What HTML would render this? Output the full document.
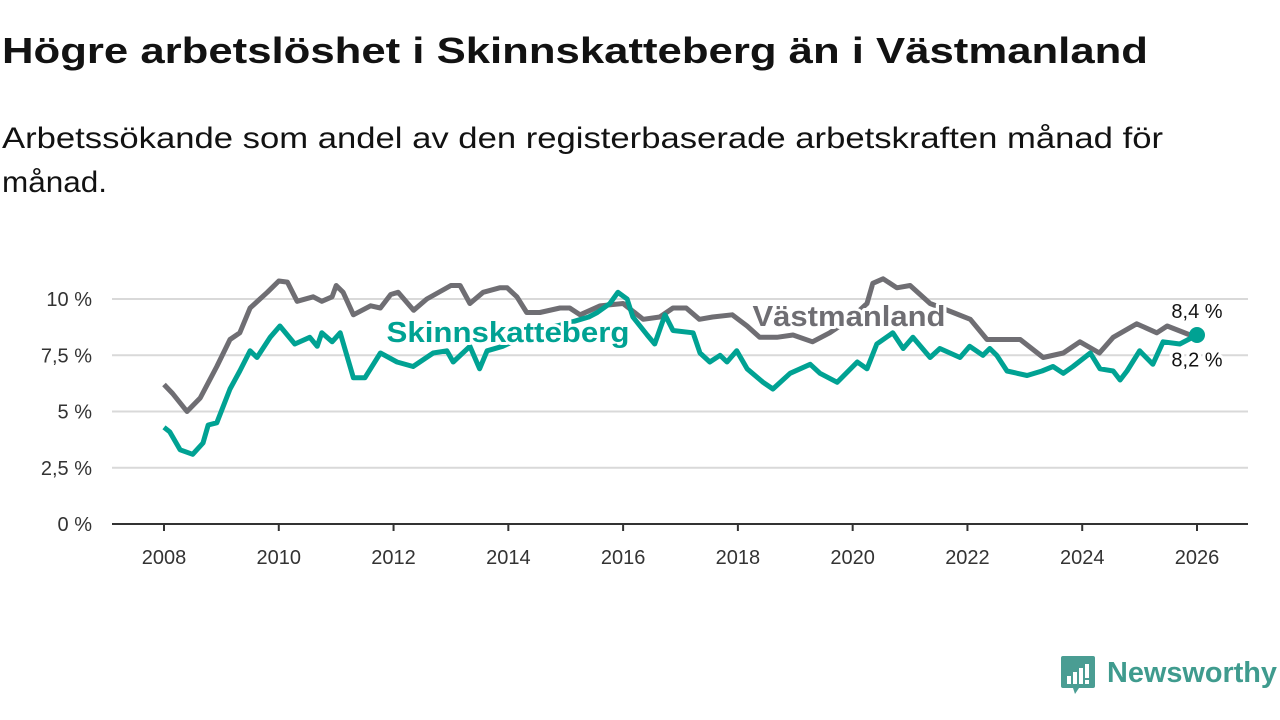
<!DOCTYPE html>
<html><head><meta charset="utf-8"><style>
html,body{margin:0;padding:0;background:#fff;}
svg{display:block;font-family:"Liberation Sans","DejaVu Sans",sans-serif;}
</style></head><body>
<svg id="chart" width="1280" height="720" viewBox="0 0 1280 720">
<text x="2" y="63" font-size="36" font-weight="bold" fill="#121212" textLength="1146" lengthAdjust="spacingAndGlyphs">Högre arbetslöshet i Skinnskatteberg än i Västmanland</text>
<text x="2" y="148" font-size="30" fill="#121212" textLength="1161" lengthAdjust="spacingAndGlyphs">Arbetssökande som andel av den registerbaserade arbetskraften månad för</text>
<text x="2" y="192" font-size="30" fill="#121212" textLength="105" lengthAdjust="spacingAndGlyphs">månad.</text>
<g id="grid"></g>
<g id="xaxis"></g>
<g id="series"></g>
<g id="labels"></g>
<g>
<path d="M1063,656 h30 a2,2 0 0 1 2,2 v28 a2,2 0 0 1 -2,2 h-14 l-4,6 l-2,-6 h-10 a2,2 0 0 1 -2,-2 v-28 a2,2 0 0 1 2,-2z" fill="#4a9d93"/>
<rect x="1067" y="676" width="4" height="8" fill="#fff"/><rect x="1073" y="672" width="4" height="12" fill="#fff"/><rect x="1079" y="668" width="4" height="16" fill="#fff"/><rect x="1085" y="664" width="4" height="14" fill="#fff"/><rect x="1085" y="680" width="4" height="4" fill="#fff"/>
<text x="1107" y="682" font-size="29" font-weight="bold" fill="#3f9b8e" textLength="170" lengthAdjust="spacingAndGlyphs">Newsworthy</text>
</g>
</svg>
<script>
const yTicks=[0,2.5,5,7.5,10];
const yTickLabels=["0 %","2,5 %","5 %","7,5 %","10 %"];
const xTicks=[2008,2010,2012,2014,2016,2018,2020,2022,2024,2026];
const vastYears=[2008.0,2008.15,2008.4,2008.63,2008.92,2009.15,2009.32,2009.5,2009.8,2010.0,2010.15,2010.32,2010.6,2010.75,2010.93,2011.0,2011.12,2011.3,2011.6,2011.77,2011.95,2012.08,2012.35,2012.58,2012.86,2013.0,2013.16,2013.33,2013.56,2013.85,2013.98,2014.15,2014.32,2014.55,2014.9,2015.07,2015.25,2015.6,2016.0,2016.35,2016.64,2016.87,2017.1,2017.33,2017.56,2017.9,2018.16,2018.38,2018.68,2018.96,2019.3,2019.6,2019.95,2020.25,2020.35,2020.53,2020.77,2021.0,2021.35,2021.75,2022.05,2022.34,2022.92,2023.32,2023.67,2023.96,2024.3,2024.54,2024.95,2025.3,2025.48,2025.88,2026.0];
const vastValues=[6.2,5.8,5.0,5.6,7.0,8.2,8.5,9.6,10.3,10.8,10.75,9.9,10.1,9.9,10.1,10.6,10.3,9.3,9.7,9.6,10.2,10.3,9.5,10.0,10.4,10.6,10.6,9.8,10.3,10.5,10.5,10.1,9.4,9.4,9.6,9.6,9.3,9.7,9.8,9.1,9.2,9.6,9.6,9.1,9.2,9.3,8.8,8.3,8.3,8.4,8.1,8.5,9.1,9.8,10.7,10.9,10.5,10.6,9.8,9.4,9.1,8.2,8.2,7.4,7.6,8.1,7.6,8.3,8.9,8.5,8.8,8.4,8.2];
const skinYears=[2008.0,2008.1,2008.28,2008.5,2008.68,2008.77,2008.92,2009.15,2009.32,2009.5,2009.62,2009.85,2010.02,2010.28,2010.54,2010.67,2010.75,2010.93,2011.07,2011.3,2011.5,2011.77,2012.06,2012.34,2012.69,2012.93,2013.04,2013.33,2013.5,2013.63,2013.9,2014.5,2015.0,2015.4,2015.55,2015.77,2015.91,2016.07,2016.17,2016.42,2016.55,2016.73,2016.87,2017.22,2017.34,2017.51,2017.69,2017.81,2017.98,2018.16,2018.44,2018.61,2018.91,2019.26,2019.43,2019.73,2020.08,2020.25,2020.42,2020.7,2020.88,2021.05,2021.35,2021.52,2021.87,2022.04,2022.27,2022.39,2022.51,2022.69,2023.04,2023.3,2023.49,2023.67,2023.84,2024.14,2024.31,2024.54,2024.66,2024.78,2025.0,2025.23,2025.41,2025.7,2026.0];
const skinValues=[4.3,4.1,3.3,3.1,3.6,4.4,4.5,6.0,6.8,7.7,7.4,8.3,8.8,8.0,8.3,7.9,8.5,8.1,8.5,6.5,6.5,7.6,7.2,7.0,7.6,7.7,7.2,7.9,6.9,7.7,7.9,8.6,8.9,9.2,9.4,9.8,10.3,10.0,9.2,8.4,8.0,9.3,8.6,8.5,7.6,7.2,7.5,7.2,7.7,6.9,6.3,6.0,6.7,7.1,6.7,6.3,7.2,6.9,8.0,8.5,7.8,8.3,7.4,7.8,7.4,7.9,7.5,7.8,7.5,6.8,6.6,6.8,7.0,6.7,7.0,7.6,6.9,6.8,6.4,6.8,7.7,7.1,8.1,8.0,8.4];
const endLabels=["8,4 %","8,2 %"];

const NS="http://www.w3.org/2000/svg";
const X=y=>164+(y-2008)*(1197-164)/18;
const Y=v=>524-v*22.5;
function mk(tag,parent,attrs){const e=document.createElementNS(NS,tag);for(const k in attrs)e.setAttribute(k,attrs[k]);parent.appendChild(e);return e;}
const grid=document.getElementById('grid'),xa=document.getElementById('xaxis'),ser=document.getElementById('series'),lab=document.getElementById('labels');
yTicks.forEach((t,i)=>{
  if(t>0){const l=mk('line',grid,{x1:112,x2:1248,y1:Y(t),y2:Y(t),stroke:'#d9d9d9','stroke-width':2});
  
  }
  const tx=mk('text',grid,{x:92,y:Y(t)+7,'text-anchor':'end','font-size':20,fill:'#333'});
  
  
  tx.textContent=yTickLabels[i];
});
const ax=mk('line',xa,{x1:112,x2:1248,y1:524,y2:524,stroke:'#333','stroke-width':2});


xTicks.forEach(t=>{
  const tk=mk('line',xa,{x1:X(t),x2:X(t),y1:524,y2:531,stroke:'#333','stroke-width':2});
  
  
  const tx=mk('text',xa,{x:X(t),y:564,'text-anchor':'middle','font-size':20,fill:'#333'});
  
  
  tx.textContent=t;
});
function pathOf(xs,vs){return xs.map((x,i)=>(i?'L':'M')+X(x).toFixed(1)+','+Y(vs[i]).toFixed(1)).join(' ');}
const pv=mk('path',ser,{d:pathOf(vastYears,vastValues),fill:'none',stroke:'#6f6e73','stroke-width':5,'stroke-linejoin':'round'});


const ps=mk('path',ser,{d:pathOf(skinYears,skinValues),fill:'none',stroke:'#00a293','stroke-width':5,'stroke-linejoin':'round'});


const lastS=skinValues.length-1;
const dot=mk('circle',ser,{cx:X(skinYears[lastS]),cy:Y(skinValues[lastS]),r:8,fill:'#00a293'});


function halo(txt,x,y,size,col,bold,name,len){
  const a={x:x,y:y,'font-size':size,fill:col,'font-weight':bold?'bold':'normal',stroke:'#fff','stroke-width':6,'paint-order':'stroke','stroke-linejoin':'round','text-anchor':'middle'};
  if(len){a.textLength=len;a.lengthAdjust='spacingAndGlyphs';}
  const t=mk('text',lab,a);
  
  
  t.textContent=txt;return t;}
halo('Skinnskatteberg',508,342,29,'#00a293',true,'skinnskatteberg-label',243);
halo('Västmanland',849,326,29,'#6f6e73',true,'vastmanland-label',193);
halo(endLabels[0],X(2026),Y(skinValues[lastS])-17,20,'#121212',false,'end-label-skinnskatteberg');
halo(endLabels[1],X(2026),Y(vastValues[vastValues.length-1])+27,20,'#121212',false,'end-label-vastmanland');
</script>
</body></html>
